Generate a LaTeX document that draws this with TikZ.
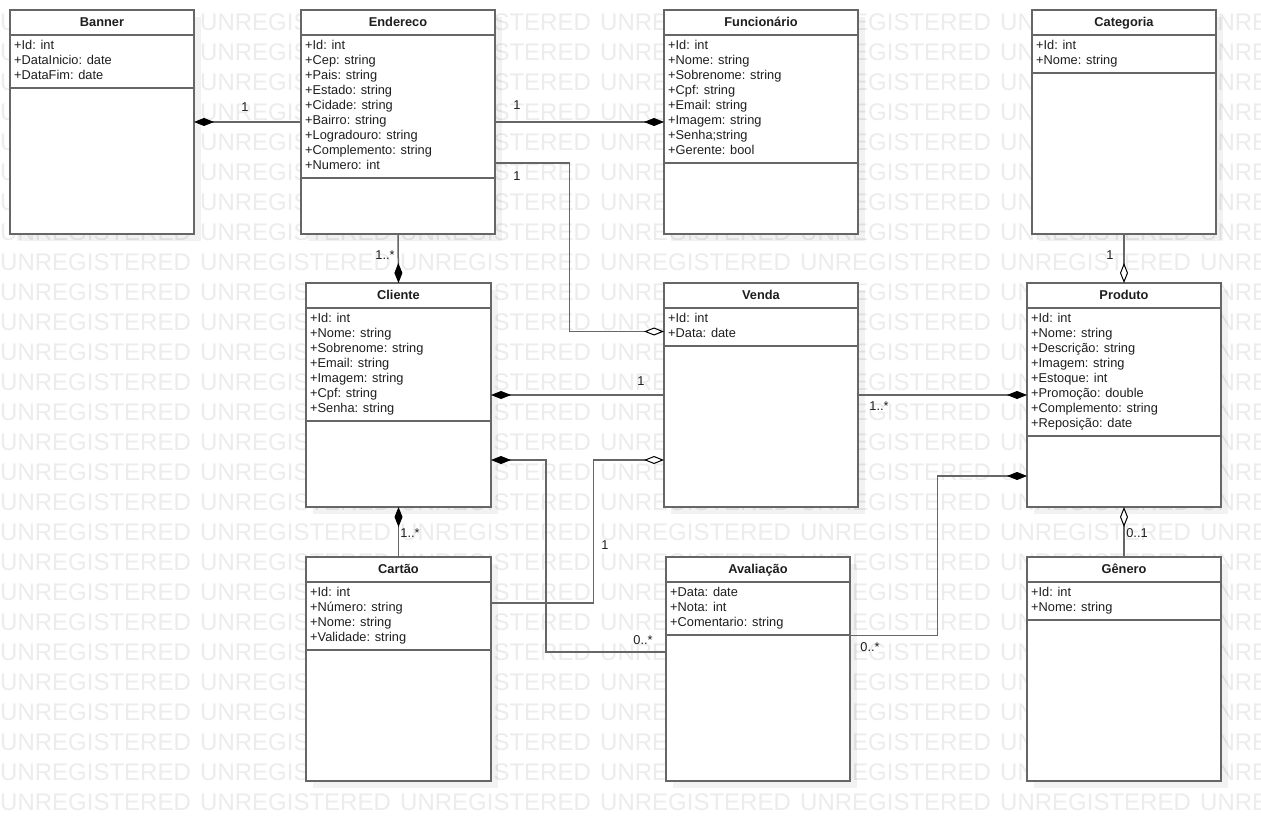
\documentclass[tikz,border=0pt]{standalone}
\usepackage{fontspec}
\setmainfont{Liberation Sans}
\usetikzlibrary{arrows.meta}
\definecolor{linec}{RGB}{102,102,102}
\definecolor{textc}{RGB}{30,30,30}
\definecolor{wmc}{RGB}{236,236,236}
\tikzset{
  classbox/.style={draw=linec, line width=1.5pt, fill=white, inner sep=0pt, outer sep=0pt, rectangle},
  boxline/.style={draw=linec, line width=1.5pt},
  shadowfill/.style={fill=black, opacity=0.05},
  titletext/.style={font=\fontsize{12.8}{15}\selectfont\bfseries, text=textc, inner sep=0pt},
  attrtext/.style={font=\fontsize{12.8}{15}\selectfont, text=textc, inner sep=0pt},
  mult/.style={font=\fontsize{12.8}{15}\selectfont, text=textc, inner sep=0pt},
  wm/.style={font=\fontsize{24}{28}\selectfont, text=wmc, inner sep=0pt, anchor=west},
  conn/.style={draw=linec, line width=1.5pt},
  compo/.tip={Diamond[length=20pt,width=8pt,color=black,line width=1pt]},
  aggr/.tip={Diamond[length=20pt,width=8pt,color=black,fill=white,line width=1pt]},
}
% #1 name, #2 x1, #3 y1, #4 x2, #5 y2, #6 title, #7 separator y, #8 attributes
\newcommand\umlclass[8]{%
  \fill[shadowfill] (#2+7,#3+7) rectangle (#4+7,#5+7);
  \node[classbox, minimum width={#4-#2}, minimum height={#5-#3}, anchor=north west] (#1) at (#2,#3) {};
  \node[titletext, anchor=base] (#1-title) at ({(#2+#4)/2},#3+16.6) {#6};
  \draw[boxline] (#2,#3+25) -- (#4,#3+25);
  \draw[boxline] (#2,#7) -- (#4,#7);
  \foreach \umlattr [count=\i] in {#8}
    \node[attrtext, anchor=base west] (#1-a\i) at (#2+4,#3+24.5+15*\i) {\umlattr};
}
\begin{document}
\begin{tikzpicture}[x=1pt,y=-1pt]
\useasboundingbox (0,0) rectangle (1261,821);
\fill[white] (0,0) rectangle (1261,821);
\clip (0,0) rectangle (1261,821);
% watermark
\foreach \r in {0,...,26}
  \foreach \c in {0,...,6}
    \node[wm] (wm-\r-\c) at (200*\c,22+30*\r) {UNREGISTERED};
% classes
\umlclass{banner}{10}{10}{194}{234}{Banner}{88}{+Id: int,+DataInicio: date,+DataFim: date}
\umlclass{endereco}{301}{10}{495}{234}{Endereco}{178}{+Id: int,+Cep: string,+Pais: string,+Estado: string,+Cidade: string,+Bairro: string,+Logradouro: string,+Complemento: string,+Numero: int}
\umlclass{func}{664}{10}{858}{234}{Funcionário}{163}{+Id: int,+Nome: string,+Sobrenome: string,+Cpf: string,+Email: string,+Imagem: string,+Senha;string,+Gerente: bool}
\umlclass{categoria}{1032}{10}{1216}{234}{Categoria}{73}{+Id: int,+Nome: string}
\umlclass{cliente}{306}{283}{491}{507}{Cliente}{421}{+Id: int,+Nome: string,+Sobrenome: string,+Email: string,+Imagem: string,+Cpf: string,+Senha: string}
\umlclass{venda}{664}{283}{858}{507}{Venda}{346}{+Id: int,+Data: date}
\umlclass{produto}{1027}{283}{1221}{507}{Produto}{436}{+Id: int,+Nome: string,+Descrição: string,+Imagem: string,+Estoque: int,+Promoção: double,+Complemento: string,+Reposição: date}
\umlclass{cartao}{306}{557}{491}{781}{Cartão}{650}{+Id: int,+Número: string,+Nome: string,+Validade: string}
\umlclass{avaliacao}{666}{557}{850}{781}{Avaliação}{635}{+Data: date,+Nota: int,+Comentario: string}
\umlclass{genero}{1027}{557}{1221}{781}{Gênero}{620}{+Id: int,+Nome: string}
% connectors
\draw[conn, compo-] (banner.east |- 0,122) -- (endereco.west |- 0,122);
\draw[conn, -compo] (endereco.east |- 0,122) -- (func.west |- 0,122);
\draw[conn, -aggr] (endereco.east |- 0,163) -- (569.5,163) -- (569.5,331.5) -- (venda.west |- 0,331.5);
\draw[conn, compo-] (cliente.north) -- (endereco.south);
\draw[conn, compo-] (cliente.east |- 0,395) -- (venda.west |- 0,395);
\draw[conn, compo-] (cliente.east |- 0,460) -- (546,460) -- (546,652) -- (avaliacao.west |- 0,652);
\draw[conn, -aggr] (cartao.east |- 0,603) -- (593.5,603) -- (593.5,460) -- (venda.west |- 0,460);
\draw[conn, compo-] (cliente.south) -- (cartao.north);
\draw[conn, -compo] (venda.east |- 0,395) -- (produto.west |- 0,395);
\draw[conn, aggr-] (produto.north) -- (categoria.south);
\draw[conn, -compo] (avaliacao.east |- 0,635.5) -- (937.5,635.5) -- (937.5,476) -- (produto.west |- 0,476);
\draw[conn, aggr-] (produto.south) -- (genero.north);
% multiplicities
\node[mult] (m1) at (245,107) {1};
\node[mult] (m2) at (517,105) {1};
\node[mult] (m3) at (517,176) {1};
\node[mult] (m4) at (385,255) {1..*};
\node[mult] (m5) at (641,381) {1};
\node[mult] (m6) at (879,406) {1..*};
\node[mult] (m7) at (1110,255) {1};
\node[mult] (m8) at (410,533) {1..*};
\node[mult] (m9) at (605,545) {1};
\node[mult] (m10) at (1137,533) {0..1};
\node[mult] (m11) at (643,640) {0..*};
\node[mult] (m12) at (870,647) {0..*};
\end{tikzpicture}
\end{document}
